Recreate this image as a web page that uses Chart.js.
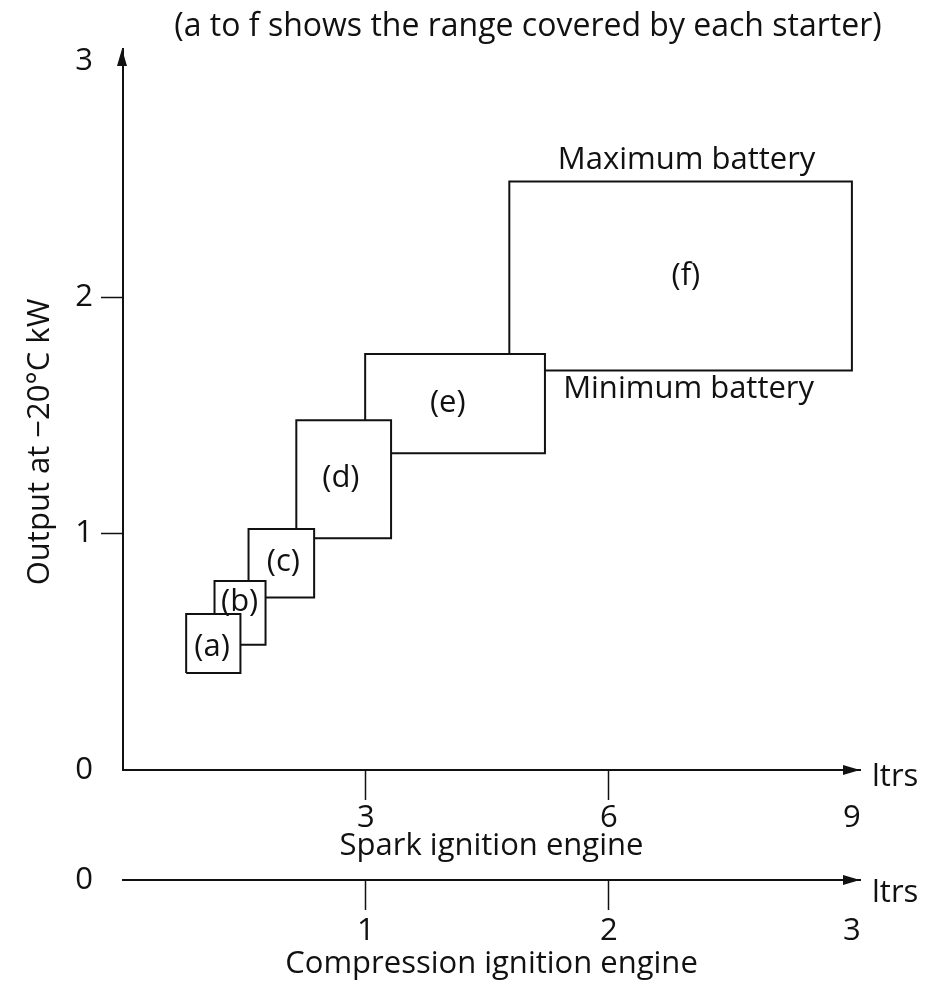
<!DOCTYPE html>
<html>
<head>
<meta charset="utf-8">
<script src="https://cdn.jsdelivr.net/npm/chart.js@4.4.1/dist/chart.umd.min.js"></script>
<style>
  body { margin: 0; background: #fff; }
  #wrap { width: 928px; height: 985px; }
</style>
</head>
<body>
<div id="wrap"><canvas id="c" width="928" height="985"></canvas></div>
<script>
// starter ranges (engine size in litres for spark ignition, output kW at -20°C)
const starters = ["(a)", "(b)", "(c)", "(d)", "(e)", "(f)"];
const sizeFrom = [0.78, 1.13, 1.55, 2.14, 2.99, 4.77];
const sizeTo = [1.45, 1.76, 2.36, 3.31, 5.21, 9.0];
const outMin = [0.41, 0.53, 0.73, 0.98, 1.34, 1.69];   // minimum battery
const outMax = [0.66, 0.80, 1.02, 1.48, 1.76, 2.49];   // maximum battery
const labelSize = [1.10, 1.44, 1.98, 2.69, 4.01, 6.95];
const labelOut = [0.52, 0.71, 0.88, 1.235, 1.55, 2.09];

// tick labels
const yTicks = [0, 1, 2, 3];
const sparkTicks = [3, 6, 9];
const compTicks = [1, 2, 3];

const FONT = "'Open Sans', Lato, sans-serif";
const FS = 31;

// each starter is a closed rectangle in data units
const datasets = starters.map((name, i) => ({
  label: name,
  data: [
    { x: sizeFrom[i], y: outMin[i] },
    { x: sizeTo[i], y: outMin[i] },
    { x: sizeTo[i], y: outMax[i] },
    { x: sizeFrom[i], y: outMax[i] },
    { x: sizeFrom[i], y: outMin[i] },
  ],
  borderColor: "#111",
  borderWidth: 2,
  backgroundColor: "#fff",
  fill: "shape",
  pointRadius: 0,
  tension: 0,
}));

const setTicks = (vals) => (scale) => {
  scale.ticks = vals.map((v) => ({ value: v }));
};

// texts and arrow heads
const extras = {
  id: "extras",
  afterDraw(chart) {
    const { ctx, chartArea } = chart;
    const x = chart.scales.x, y = chart.scales.y, x2 = chart.scales.x2;
    ctx.save();
    ctx.fillStyle = "#111";
    ctx.font = FS + "px " + FONT;
    ctx.textBaseline = "middle";
    ctx.textAlign = "center";

    // box labels
    starters.forEach((name, i) => {
      ctx.fillText(name, x.getPixelForValue(labelSize[i]), y.getPixelForValue(labelOut[i]));
    });

    // battery notes around (f)
    const f = starters.length - 1;
    const fx = x.getPixelForValue((sizeFrom[f] + sizeTo[f]) / 2) + 6;
    ctx.fillText("Maximum battery", fx, y.getPixelForValue(outMax[f]) - 21);
    ctx.fillText("Minimum battery", fx + 2, y.getPixelForValue(outMin[f]) + 19);

    // top note
    ctx.font = "32px " + FONT;
    ctx.fillText("(a to f shows the range covered by each starter)", 528, 27);
    ctx.font = FS + "px " + FONT;

    // y title
    ctx.save();
    ctx.translate(40, 442);
    ctx.rotate(-Math.PI / 2);
    ctx.fillText("Output at \u221220\u00B0C kW", 0, 0);
    ctx.restore();

    // ltrs and the 0 of the lower axis
    ctx.textAlign = "left";
    ctx.fillText("ltrs", chartArea.right + 12, y.getPixelForValue(0) + 7);
    ctx.fillText("ltrs", chartArea.right + 12, x2.top + 13);
    ctx.textAlign = "right";
    ctx.fillText("0", 93, x2.top);

    // arrow heads
    ctx.beginPath();
    const ax = x.getPixelForValue(0) - 1, ay = chartArea.top;
    ctx.moveTo(ax, ay);
    ctx.lineTo(ax - 5, ay + 17);
    ctx.lineTo(ax + 5, ay + 17);
    ctx.closePath();
    [y.getPixelForValue(0), x2.top].forEach((py) => {
      ctx.moveTo(chartArea.right, py);
      ctx.lineTo(chartArea.right - 17, py - 5);
      ctx.lineTo(chartArea.right - 17, py + 5);
      ctx.closePath();
    });
    ctx.fill();
    ctx.restore();
  },
};

const tickFont = { family: FONT, size: FS };

new Chart(document.getElementById("c"), {
  type: "line",
  data: { datasets },
  options: {
    responsive: false,
    animation: false,
    devicePixelRatio: 1,
    layout: { padding: { top: 49, right: 68, bottom: 0, left: 0 } },
    plugins: { legend: { display: false }, tooltip: { enabled: false } },
    scales: {
      x: {
        type: "linear",
        position: "bottom",
        min: 0,
        max: 9.1,
        weight: 0,
        afterBuildTicks: setTicks(sparkTicks),
        afterFit: (s) => { s.height = 110; },
        border: { color: "#111", width: 2 },
        grid: {
          drawOnChartArea: false,
          tickLength: 30,
          tickWidth: 1.5,
          tickColor: (c) => (c.tick && c.tick.value < 9 ? "#111" : "rgba(0,0,0,0)"),
        },
        ticks: { color: "#111", font: tickFont, padding: 0, maxRotation: 0 },
        title: {
          display: true,
          text: "Spark ignition engine",
          color: "#111",
          font: tickFont,
          padding: { top: 0, bottom: 15 },
        },
      },
      x2: {
        type: "linear",
        position: "bottom",
        min: 0,
        max: 9.1 / 3,
        weight: 1,
        afterBuildTicks: setTicks(compTicks),
        afterFit: (s) => { s.height = 105; },
        border: { color: "#111", width: 2 },
        grid: {
          drawOnChartArea: false,
          tickLength: 30,
          tickWidth: 1.5,
          tickColor: (c) => (c.tick && c.tick.value < 3 ? "#111" : "rgba(0,0,0,0)"),
        },
        ticks: { color: "#111", font: tickFont, padding: 3, maxRotation: 0 },
        title: {
          display: true,
          text: "Compression ignition engine",
          color: "#111",
          font: tickFont,
          padding: { top: 0, bottom: 2 },
        },
      },
      y: {
        type: "linear",
        min: 0,
        max: 3.05,
        afterBuildTicks: setTicks(yTicks),
        afterFit: (s) => { s.width = 123; },
        border: { color: "#111", width: 2 },
        grid: {
          drawOnChartArea: false,
          tickLength: 22,
          tickWidth: 1.5,
          tickColor: (c) => (c.tick && c.tick.value > 0 && c.tick.value < 3 ? "#111" : "rgba(0,0,0,0)"),
        },
        ticks: { color: "#111", font: tickFont, padding: 8 },
      },
    },
  },
  plugins: [extras],
});
</script>
</body>
</html>
